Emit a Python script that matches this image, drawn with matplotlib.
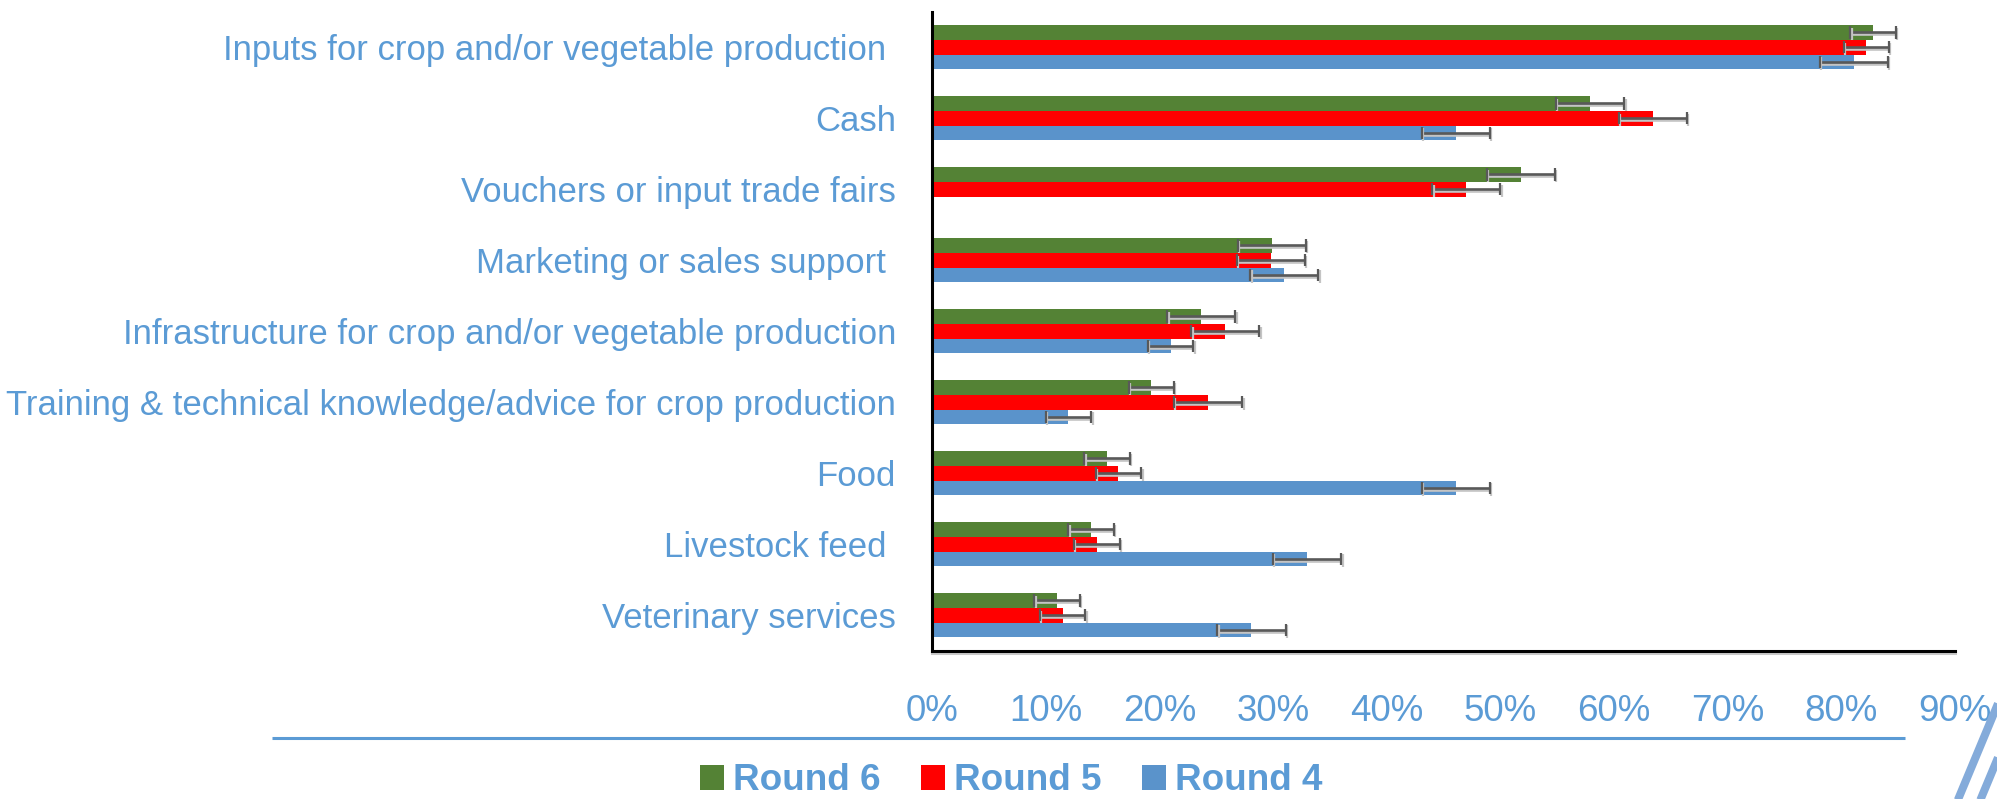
import numpy as np
import matplotlib
matplotlib.use("Agg")
import matplotlib.pyplot as plt
from matplotlib.lines import Line2D
import matplotlib.patheffects as pe

plt.rcParams['font.family'] = ['Liberation Sans', 'DejaVu Sans']

categories = [
    "Inputs for crop and/or vegetable production ",
    "Cash",
    "Vouchers or input trade fairs",
    "Marketing or sales support ",
    "Infrastructure for crop and/or vegetable production",
    "Training & technical knowledge/advice for crop production",
    "Food",
    "Livestock feed ",
    "Veterinary services",
]
series_names = ["Round 6", "Round 5", "Round 4"]
round6 = [0.828, 0.579, 0.518, 0.299, 0.237, 0.193, 0.154, 0.140, 0.110]
round5 = [0.822, 0.634, 0.470, 0.298, 0.258, 0.243, 0.164, 0.145, 0.115]
round4 = [0.811, 0.461, 0.0, 0.310, 0.210, 0.120, 0.461, 0.330, 0.281]
err6 = [0.020, 0.030, 0.030, 0.030, 0.030, 0.020, 0.020, 0.020, 0.020]
err5 = [0.020, 0.030, 0.030, 0.030, 0.030, 0.030, 0.020, 0.020, 0.020]
err4 = [0.030, 0.030, np.nan, 0.030, 0.020, 0.020, 0.030, 0.030, 0.030]
xticks = [0.0, 0.1, 0.2, 0.3, 0.4, 0.5, 0.6, 0.7, 0.8, 0.9]
xtick_labels = ["0%", "10%", "20%", "30%", "40%", "50%", "60%", "70%", "80%", "90%"]

colors = ["#548235", "#FF0000", "#5A93CB"]
text_blue = "#5B9BD5"
err_color = "#595959"

W, H = 1997, 799
fig = plt.figure(figsize=(W / 100, H / 100), dpi=100)
ax = fig.add_axes([932 / W, (H - 650.7) / H, (1955 - 932) / W, 639 / H])

y = np.arange(len(categories))
h = 0.208
offsets = [-h, 0.0, h]
shadow = [pe.SimpleLineShadow(offset=(1.0, -1.2), shadow_color="#c4c4c4", alpha=1), pe.Normal()]

handles = []
for vals, errs, off, col, name in zip([round6, round5, round4], [err6, err5, err4],
                                     offsets, colors, series_names):
    vals = np.asarray(vals, dtype=float)
    errs = np.asarray(errs, dtype=float)
    b = ax.barh(y + off, vals, height=h, color=col, edgecolor="none", label=name, zorder=2)
    handles.append(b)
    ok = ~np.isnan(errs)
    eb = ax.errorbar(vals[ok], (y + off)[ok], xerr=errs[ok], fmt="none", ecolor=err_color,
                     elinewidth=1.9, capsize=4.5, capthick=1.6, zorder=3)
    for art in list(eb.lines[1]) + list(eb.lines[2]):
        art.set_path_effects(shadow)

ax.set_ylim(len(categories) - 0.5, -0.5)
ax.set_xlim(0, 0.9)
ax.set_yticks(y)
ax.set_yticklabels(categories, fontsize=25, color=text_blue)
ax.set_xticks(xticks)
ax.set_xticklabels(xtick_labels, fontsize=26.5, color=text_blue)
ax.tick_params(axis="y", length=0, pad=26)
ax.tick_params(axis="x", length=0, pad=31)

for s in ["top", "right"]:
    ax.spines[s].set_visible(False)
for s in ["left", "bottom"]:
    ax.spines[s].set_linewidth(2.2)
    ax.spines[s].set_color("black")
    ax.spines[s].set_zorder(4)
ax.spines["bottom"].set_path_effects(
    [pe.SimpleLineShadow(offset=(0, -1.5), shadow_color="#c8c8c8", alpha=1), pe.Normal()])

# separator rule under the axis labels
fig.add_artist(Line2D([272 / W, 1905 / W], [(H - 738) / H] * 2, transform=fig.transFigure,
                      color="#5B9BD5", lw=2.2, solid_capstyle="butt"))

# decorative slanted strokes in the corner
slope = 40 / 96
for x0, y0 in [(1997, 706), (1997, 760)]:
    ys = np.array([y0 - 30, H + 20])
    xs = x0 - (ys - y0) * slope
    fig.add_artist(Line2D(xs / W, (H - ys) / H, transform=fig.transFigure,
                          color="#84ABDA", lw=5.8, solid_capstyle="butt"))

leg = fig.legend(handles=handles, labels=series_names, loc="center",
                 bbox_to_anchor=(1011.5 / W, 1 - 781 / H), ncol=3, frameon=False,
                 prop={"size": 26.6, "weight": "bold"}, handlelength=0.64, handleheight=0.64,
                 handletextpad=0.25, columnspacing=1.1, borderpad=0)
for t in leg.get_texts():
    t.set_color(text_blue)

fig.savefig("out.png", dpi=100)
